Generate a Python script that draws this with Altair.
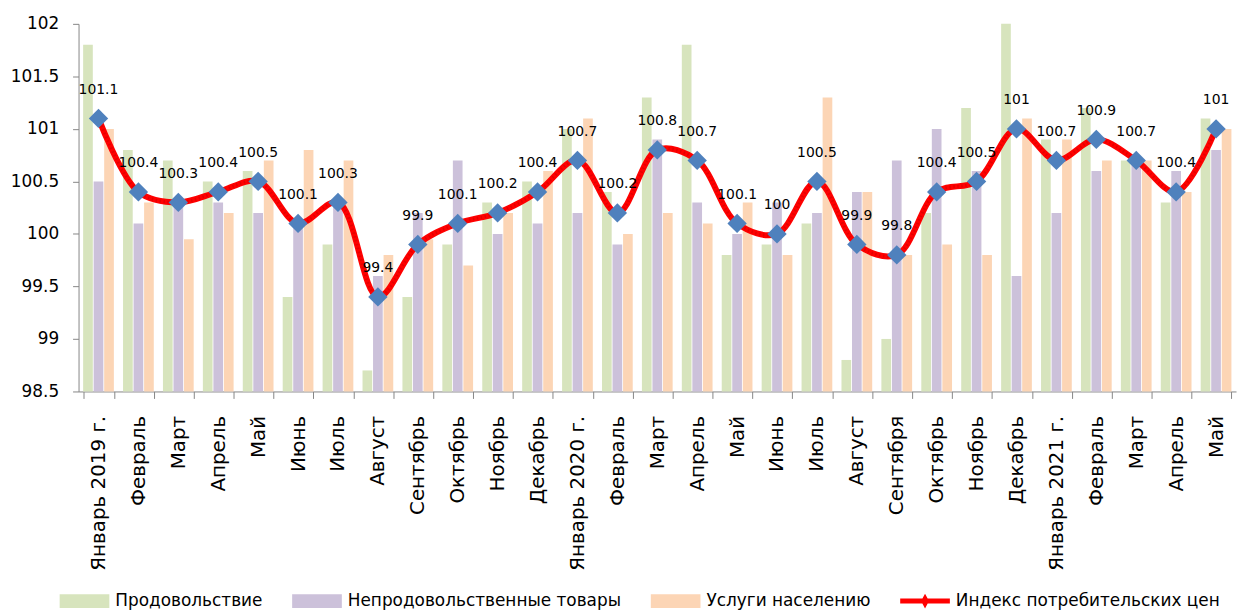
import json
import altair as alt
import pandas as pd

months = ["Январь 2019 г.", "Февраль", "Март", "Апрель", "Май", "Июнь", "Июль", "Август",
          "Сентябрь", "Октябрь", "Ноябрь", "Декабрь", "Январь 2020 г.", "Февраль", "Март",
          "Апрель", "Май", "Июнь", "Июль", "Август", "Сентября", "Октябрь", "Ноябрь", "Декабрь",
          "Январь 2021 г.", "Февраль", "Март", "Апрель", "Май"]

food = [101.8, 100.8, 100.7, 100.5, 100.6, 99.4, 99.9, 98.7, 99.4, 99.9, 100.3, 100.5,
        101.0, 100.4, 101.3, 101.8, 99.8, 99.9, 100.1, 98.8, 99.0, 100.2, 101.2, 102.0,
        100.9, 101.2, 100.7, 100.3, 101.1]
nonfood = [100.5, 100.1, 100.3, 100.3, 100.2, 100.1, 100.3, 99.6, 100.2, 100.7, 100.0, 100.1,
           100.2, 99.9, 100.9, 100.3, 100.0, 100.3, 100.2, 100.4, 100.7, 101.0, 100.6, 99.6,
           100.2, 100.6, 100.7, 100.6, 100.8]
services = [101.0, 100.3, 99.95, 100.2, 100.7, 100.8, 100.7, 99.8, 99.95, 99.7, 100.2, 100.6,
            101.1, 100.0, 100.2, 100.1, 100.3, 99.8, 101.3, 100.4, 99.8, 99.9, 99.8, 101.1,
            100.9, 100.7, 100.7, 100.4, 101.0]
cpi = [101.1, 100.4, 100.3, 100.4, 100.5, 100.1, 100.3, 99.4, 99.9, 100.1, 100.2, 100.4,
       100.7, 100.2, 100.8, 100.7, 100.1, 100.0, 100.5, 99.9, 99.8, 100.4, 100.5, 101.0,
       100.7, 100.9, 100.7, 100.4, 101.0]

series = ["Продовольствие", "Непродовольственные товары", "Услуги населению",
          "Индекс потребительских цен"]
colors = ["#d7e4bd", "#ccc1da", "#fcd5b5", "#ff0000"]
y_ticks = [98.5, 99, 99.5, 100, 100.5, 101, 101.5, 102]

FONT = "DejaVu Sans"

rows = []
for name, vals in zip(series[:3], [food, nonfood, services]):
    for i, v in enumerate(vals):
        rows.append({"idx": i, "series": name, "value": v})
bars_df = pd.DataFrame(rows)
cpi_df = pd.DataFrame({"idx": list(range(len(cpi))), "value": cpi,
                       "series": series[3], "label": [f"{v:g}" for v in cpi]})

label_expr = json.dumps(months, ensure_ascii=False) + "[datum.value]"

x_scale = alt.Scale(paddingInner=0.23, paddingOuter=0.115)
y_scale = alt.Scale(domain=[98.5, 102], zero=False, nice=False)

x_enc = alt.X("idx:O", scale=x_scale, title=None,
              axis=alt.Axis(labelExpr=label_expr, labelAngle=-90, labelAlign="right",
                            labelBaseline="middle", labelFontSize=20, labelFont=FONT,
                            labelPadding=17, tickBand="extent", tickSize=7,
                            domainColor="#868686", tickColor="#868686",
                            labelColor="#000000"))

color_scale = alt.Scale(domain=series, range=colors)
sym_expr = ("datum.value == '" + series[3] + "' ? "
            "'M-1,-0.1H1V0.1H-1Z M0,-0.3L0.16,0L0,0.3L-0.16,0Z' : 'M-1,-0.28H1V0.28H-1Z'")
legend = alt.Legend(title=None, orient="none", legendX=-19, legendY=556,
                    direction="horizontal", symbolType={"expr": sym_expr},
                    symbolSize=2500, symbolStrokeWidth=0, labelFont=FONT,
                    labelFontSize=17, labelColor="#000000", labelLimit=500,
                    labelOffset=6, columnPadding=29, padding=0)

bars = alt.Chart(bars_df).mark_bar().encode(
    x=x_enc,
    xOffset=alt.XOffset("series:N", sort=series[:3],
                        scale=alt.Scale(domain=series[:3], paddingInner=0.08)),
    y=alt.Y("value:Q", scale=y_scale, title=None,
            axis=alt.Axis(values=y_ticks, format="~g", labelFontSize=17, labelFont=FONT,
                          tickSize=6, labelPadding=14, domainColor="#868686",
                          tickColor="#868686", labelColor="#000000", grid=False)),
    y2=alt.datum(98.5),
    color=alt.Color("series:N", scale=color_scale, legend=legend),
)

line = alt.Chart(cpi_df).mark_line(strokeWidth=6, interpolate="catmull-rom").encode(
    x=alt.X("idx:O"),
    y=alt.Y("value:Q"),
    color=alt.Color("series:N", scale=color_scale, legend=legend),
)
texture = alt.Chart(cpi_df).mark_line(strokeWidth=3, interpolate="catmull-rom",
                                      color="#c00000", strokeDash=[1.5, 2.5],
                                      opacity=0.45).encode(
    x=alt.X("idx:O"),
    y=alt.Y("value:Q"),
)
points = alt.Chart(cpi_df).mark_point(shape="diamond", size=380, filled=True,
                                      color="#4f81bd", opacity=1).encode(
    x=alt.X("idx:O"),
    y=alt.Y("value:Q"),
)
labels = alt.Chart(cpi_df).mark_text(dy=-29, fontSize=14, font=FONT,
                                     color="#000000", baseline="middle").encode(
    x=alt.X("idx:O"),
    y=alt.Y("value:Q"),
    text="label:N",
)

chart = alt.layer(bars, line, texture, points, labels).properties(
    width=1165, height=370,
    autosize=alt.AutoSizeParams(type="none"),
    padding={"left": 71, "top": 14, "right": 2, "bottom": 219},
).configure_view(stroke=None).configure_axis(grid=False)

chart.save("out.html", embed_options={"renderer": "svg", "actions": False})
